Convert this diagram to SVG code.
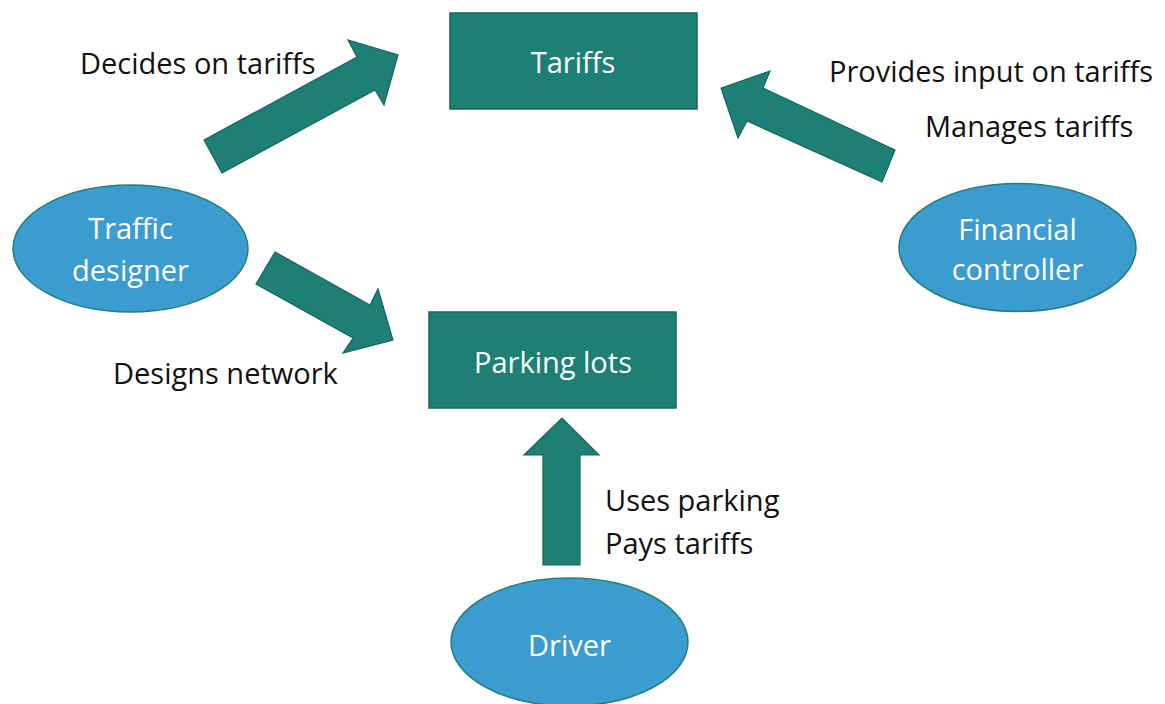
<svg xmlns="http://www.w3.org/2000/svg" width="1165" height="704" viewBox="0 0 1165 704">
  <style>
    .box { fill: #1e7f75; stroke: #17665e; stroke-width: 1.5; }
    .actor { fill: #3b9ccf; stroke: #237f7a; stroke-width: 1.5; }
    .flow { fill: #1e7f75; stroke: #17665e; stroke-width: 1.2; stroke-linejoin: miter; }
    .in { font-family: "Open Sans", "Noto Sans", sans-serif; font-size: 29px; fill: #ffffff; text-anchor: middle; }
    .lbl { font-family: "Open Sans", "Noto Sans", sans-serif; font-size: 29px; fill: #111111; }
  </style>
  <rect width="1165" height="704" fill="#ffffff"/>

  <!-- block arrows between actors and artefacts -->
  <g id="connectors">
    <polygon class="flow" points="204,140 357,57 348,40 398,55 384,105 375,90 222,173"/>
    <polygon class="flow" points="895,150 763,88 770,71 721,88 738,138 747,121 882,182"/>
    <polygon class="flow" points="275,252 370,305 378,289 393,340 343,353 353,338 256,284"/>
    <polygon class="flow" points="543,565 543,455 524,455 562,418 599,455 580,455 580,565"/>
  </g>

  <g id="tariffs">
    <rect class="box" x="450" y="13" width="247" height="96"/>
    <text class="in" x="573" y="73">Tariffs</text>
  </g>

  <g id="parking-lots">
    <rect class="box" x="429" y="312" width="247" height="96"/>
    <text class="in" x="553" y="373">Parking lots</text>
  </g>

  <g id="traffic-designer">
    <ellipse class="actor" cx="130.5" cy="248.5" rx="117.5" ry="63.5"/>
    <text class="in" x="130.5" y="239">Traffic</text>
    <text class="in" x="130.5" y="281">designer</text>
  </g>

  <g id="financial-controller">
    <ellipse class="actor" cx="1017.5" cy="247.5" rx="118.5" ry="64"/>
    <text class="in" x="1017.5" y="240">Financial</text>
    <text class="in" x="1017.5" y="280">controller</text>
  </g>

  <g id="driver">
    <ellipse class="actor" cx="569.5" cy="642" rx="118.5" ry="64"/>
    <text class="in" x="569.5" y="656">Driver</text>
  </g>

  <g id="labels">
    <text class="lbl" x="80" y="74">Decides on tariffs</text>
    <text class="lbl" x="829" y="82">Provides input on tariffs</text>
    <text class="lbl" x="925" y="137">Manages tariffs</text>
    <text class="lbl" x="113" y="384">Designs network</text>
    <text class="lbl" x="605" y="511">Uses parking</text>
    <text class="lbl" x="605" y="554">Pays tariffs</text>
  </g>
</svg>
